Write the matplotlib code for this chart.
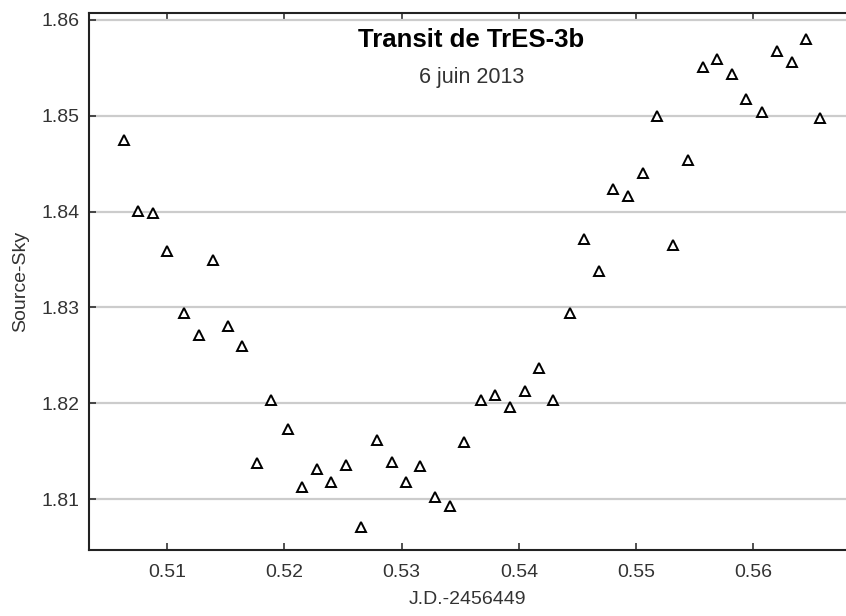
import numpy as np
import matplotlib
matplotlib.use("Agg")
import matplotlib.pyplot as plt

# light curve of TrES-3b
jd = [0.50633, 0.50755, 0.50881, 0.51003, 0.51145, 0.51270, 0.51392, 0.51518,
      0.51640, 0.51765, 0.51887, 0.52030, 0.52154, 0.52277, 0.52402, 0.52523,
      0.52653, 0.52789, 0.52914, 0.53039, 0.53161, 0.53287, 0.53412, 0.53534,
      0.53673, 0.53796, 0.53924, 0.54049, 0.54172, 0.54294, 0.54433, 0.54558,
      0.54680, 0.54803, 0.54931, 0.55056, 0.55181, 0.55317, 0.55439, 0.55567,
      0.55690, 0.55815, 0.55938, 0.56077, 0.56202, 0.56327, 0.56452, 0.56572]
flux = [1.84747, 1.84006, 1.83989, 1.83589, 1.82945, 1.82712, 1.83495, 1.82809,
        1.82600, 1.81373, 1.82033, 1.81731, 1.81128, 1.81313, 1.81181, 1.81352,
        1.80705, 1.81616, 1.81383, 1.81181, 1.81348, 1.81024, 1.80927, 1.81592,
        1.82033, 1.82086, 1.81957, 1.82130, 1.82371, 1.82033, 1.82938, 1.83711,
        1.83383, 1.84236, 1.84163, 1.84406, 1.84998, 1.83651, 1.84539, 1.85506,
        1.85590, 1.85436, 1.85172, 1.85037, 1.85680, 1.85565, 1.85799, 1.84980]

xticks = [0.51, 0.52, 0.53, 0.54, 0.55, 0.56]
yticks = [1.81, 1.82, 1.83, 1.84, 1.85, 1.86]

title = "Transit de TrES-3b"
subtitle = "6 juin 2013"
xlabel = "J.D.-2456449"
ylabel = "Source-Sky"

plt.rcParams['font.family'] = ['Liberation Sans', 'DejaVu Sans']

fig = plt.figure(figsize=(8.46, 6.16), dpi=100)
ax = fig.add_axes([89 / 846, 66 / 616, 757 / 846, 537 / 616])

ax.plot(jd, flux, linestyle='none', marker='^', ms=7, mfc='white',
        mec='black', mew=1.4, zorder=3)

ax.set_xlim(0.50334, 0.5679)
ax.set_ylim(1.80468, 1.86073)
ax.set_xticks(xticks)
ax.set_yticks(yticks)
ax.set_xticklabels([f"{v:.2f}" for v in xticks])
ax.set_yticklabels([f"{v:.2f}" for v in yticks])

ax.yaxis.grid(True, color='#cccccc', lw=1.6)
ax.set_axisbelow(True)

for side in ('left', 'bottom', 'top'):
    ax.spines[side].set_linewidth(1.5)
    ax.spines[side].set_color('#222222')
ax.spines['right'].set_visible(False)

ax.tick_params(axis='both', direction='in', length=5, width=1.1,
               colors='#222222', labelcolor='#333333', labelsize=14)
ax.tick_params(axis='x', top=True, pad=10)
ax.tick_params(axis='y', pad=7)

ax.set_xlabel(xlabel, fontsize=14, color='#333333', labelpad=7)
ax.set_ylabel(ylabel, fontsize=14, color='#333333', labelpad=9)

ax.text(0.505, 0.937, title, transform=ax.transAxes, ha='center',
        va='baseline', fontsize=18.5, fontweight='bold', color='black')
ax.text(0.505, 0.870, subtitle, transform=ax.transAxes, ha='center',
        va='baseline', fontsize=15.5, color='#333333')

fig.savefig("out.png", dpi=100)
